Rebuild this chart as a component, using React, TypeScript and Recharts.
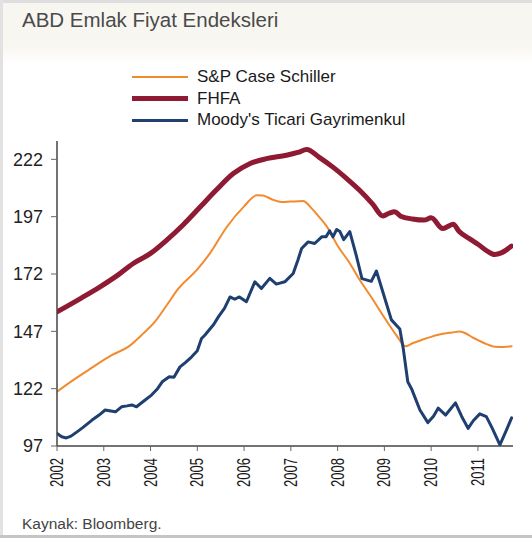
import React from "react";
import { LineChart, Line, XAxis, YAxis } from "recharts";

// ---- data ----
const yearTicks = [2002, 2003, 2004, 2005, 2006, 2007, 2008, 2009, 2010, 2011];
const valueTicks = [97, 122, 147, 172, 197, 222];

const spT = [2002.0, 2002.33, 2002.67, 2003.17, 2003.52, 2003.84, 2004.09, 2004.35, 2004.59, 2005.0, 2005.27, 2005.63, 2006.0, 2006.27, 2006.4, 2006.6, 2006.8, 2007.0, 2007.26, 2007.45, 2007.6, 2007.76, 2008.01, 2008.25, 2008.44, 2008.75, 2009.0, 2009.25, 2009.45, 2009.6, 2009.79, 2010.0, 2010.22, 2010.45, 2010.6, 2010.72, 2010.9, 2011.0, 2011.2, 2011.36, 2011.55, 2011.72];
const spV = [120.7, 125.5, 130.1, 136.6, 140.2, 146, 151.1, 158.5, 165.5, 174, 181, 192.5, 201.5, 206.3, 206.2, 204.5, 203.4, 203.6, 203.8, 200.5, 197, 193, 184, 177, 170.5, 161, 153, 145.5, 140.5, 141.8, 143.2, 144.6, 145.8, 146.5, 146.9, 146.3, 144.2, 143.2, 141.3, 140.3, 140.2, 140.5];

const fhfaT = [2002.0, 2002.5, 2002.92, 2003.3, 2003.63, 2004.0, 2004.34, 2004.7, 2005.06, 2005.4, 2005.77, 2006.12, 2006.48, 2006.9, 2007.15, 2007.34, 2007.6, 2007.9, 2008.2, 2008.47, 2008.75, 2008.97, 2009.1, 2009.22, 2009.35, 2009.6, 2009.85, 2010.0, 2010.25, 2010.47, 2010.6, 2010.85, 2011.0, 2011.2, 2011.36, 2011.5, 2011.72];
const fhfaV = [155.5, 161.3, 166.4, 171.5, 176.6, 181, 186.7, 193.5, 201.2, 208.5, 215.8, 220.1, 222.3, 223.8, 225, 226.3, 223, 218.6, 213.5, 208.5, 202.5, 197.3, 198.5, 199.2, 197.2, 196, 195.5, 196.5, 191.8, 193.7, 190.5, 187, 185, 182, 180.5, 181.2, 184.2];

const moodyT = [2002.0, 2002.1, 2002.2, 2002.3, 2002.45, 2002.55, 2002.75, 2002.9, 2003.03, 2003.15, 2003.25, 2003.38, 2003.5, 2003.6, 2003.7, 2003.85, 2004.02, 2004.15, 2004.25, 2004.4, 2004.5, 2004.63, 2004.75, 2004.88, 2005.0, 2005.09, 2005.16, 2005.27, 2005.35, 2005.45, 2005.58, 2005.7, 2005.8, 2005.9, 2006.05, 2006.23, 2006.37, 2006.55, 2006.69, 2006.87, 2007.05, 2007.15, 2007.23, 2007.37, 2007.51, 2007.66, 2007.75, 2007.83, 2007.9, 2007.98, 2008.05, 2008.13, 2008.26, 2008.4, 2008.52, 2008.72, 2008.83, 2009.0, 2009.15, 2009.33, 2009.4, 2009.5, 2009.58, 2009.76, 2009.93, 2010.05, 2010.15, 2010.31, 2010.52, 2010.65, 2010.79, 2010.9, 2011.04, 2011.18, 2011.3, 2011.47, 2011.6, 2011.72];
const moodyV = [102.5, 101, 100.5, 101.3, 103.5, 105, 108.3, 110.5, 112.7, 112.3, 111.9, 114.1, 114.5, 114.9, 114.1, 116.5, 119.2, 122, 125, 127.2, 127, 131.5, 133.5, 135.9, 138.5, 143.9, 145.3, 148, 150, 153.3, 157, 162, 161, 162, 159.9, 168.6, 165.7, 170.1, 167.6, 168.6, 172.2, 178, 183.1, 186, 185.3, 188.2, 188.2, 190.8, 188.2, 191.4, 190.5, 187, 190.5, 180, 170, 168.8, 173.3, 162, 152, 148, 140, 125, 122, 112.7, 107.2, 110, 113.5, 110.5, 115.8, 110, 104.7, 108, 111, 109.8, 105, 97.5, 103.5, 109.3];

const spData = spT.map((t, i) => ({ t, v: spV[i] }));
const fhfaData = fhfaT.map((t, i) => ({ t, v: fhfaV[i] }));
const moodyData = moodyT.map((t, i) => ({ t, v: moodyV[i] }));

const series = [
  { name: "S&P Case Schiller", color: "#F28A2E", width: 2, data: spData, curve: "monotone" },
  { name: "FHFA", color: "#8E1B33", width: 5, data: fhfaData, curve: "monotone" },
  { name: "Moody's Ticari Gayrimenkul", color: "#1E3F6F", width: 3, data: moodyData, curve: "linear" },
];

const FONT = "'Liberation Sans', Arial, sans-serif";

const XTick = (props: any) => {
  const { x, y, payload } = props;
  return (
    <text
      transform={`translate(${x + 6},${y}) rotate(-90) scale(1,1.35)`}
      textAnchor="end"
      fontSize={13}
      fontFamily={FONT}
      fill="#1a1a1a"
    >
      {payload.value}
    </text>
  );
};

export default function App() {
  return (
    <div
      style={{
        position: "fixed",
        left: 0,
        top: 0,
        width: 532,
        height: 538,
        overflow: "hidden",
        background: "#ffffff",
        fontFamily: FONT,
      }}
    >
      {/* title band */}
      <div
        style={{
          position: "absolute",
          left: 0,
          top: 0,
          width: 532,
          height: 64,
          background: "linear-gradient(#f8f6f1 0px, #f8f6f1 46px, #ffffff 64px)",
        }}
      />
      <div style={{ position: "absolute", left: 0, top: 0, width: 532, height: 3, background: "#dedede" }} />
      <div style={{ position: "absolute", left: 0, top: 0, width: 3, height: 538, background: "#e2e2e2" }} />
      <div style={{ position: "absolute", left: 0, top: 535, width: 532, height: 3, background: "#c4c4c4" }} />
      <div
        style={{
          position: "absolute",
          left: 22,
          top: 10,
          fontSize: 20.5,
          lineHeight: "20px",
          color: "#4a4a4a",
          whiteSpace: "nowrap",
        }}
      >
        ABD Emlak Fiyat Endeksleri
      </div>

      {/* legend */}
      {series.map((s, i) => (
        <div
          key={s.name}
          style={{
            position: "absolute",
            left: 132,
            top: 67 + i * 21.5,
            height: 20,
            display: "flex",
            alignItems: "center",
            whiteSpace: "nowrap",
          }}
        >
          <div style={{ width: 56, height: s.width, background: s.color, marginRight: 9 }} />
          <span style={{ fontSize: 17, color: "#1a1a1a", lineHeight: "20px" }}>{s.name}</span>
        </div>
      ))}

      <div style={{ position: "absolute", left: 0, top: 0 }}>
        <LineChart width={532} height={538} margin={{ top: 141, right: 19, bottom: 32, left: 0 }}>
          <XAxis
            dataKey="t"
            type="number"
            domain={[2002, 2011.75]}
            ticks={yearTicks}
            interval={0}
            allowDataOverflow
            height={60}
            tick={<XTick />}
            tickSize={5}
            tickMargin={7}
            axisLine={{ stroke: "#444", strokeWidth: 1.5 }}
            tickLine={{ stroke: "#666" }}
          />
          <YAxis
            type="number"
            domain={[97, 230]}
            ticks={valueTicks}
            interval={0}
            allowDataOverflow
            width={57}
            tickSize={6}
            tickMargin={8}
            tick={{ fontSize: 18, fill: "#222", fontFamily: FONT }}
            axisLine={{ stroke: "#444", strokeWidth: 1.5 }}
            tickLine={{ stroke: "#666" }}
          />
          {series.map((s) => (
            <Line
              key={s.name}
              data={s.data}
              dataKey="v"
              name={s.name}
              type={s.curve as any}
              stroke={s.color}
              strokeWidth={s.width}
              strokeLinejoin="round"
              strokeLinecap="round"
              dot={false}
              activeDot={false}
              isAnimationActive={false}
            />
          ))}
        </LineChart>
      </div>

      <div
        style={{
          position: "absolute",
          left: 22,
          top: 516,
          fontSize: 15.5,
          lineHeight: "16px",
          color: "#444",
          whiteSpace: "nowrap",
        }}
      >
        Kaynak: Bloomberg.
      </div>
    </div>
  );
}
